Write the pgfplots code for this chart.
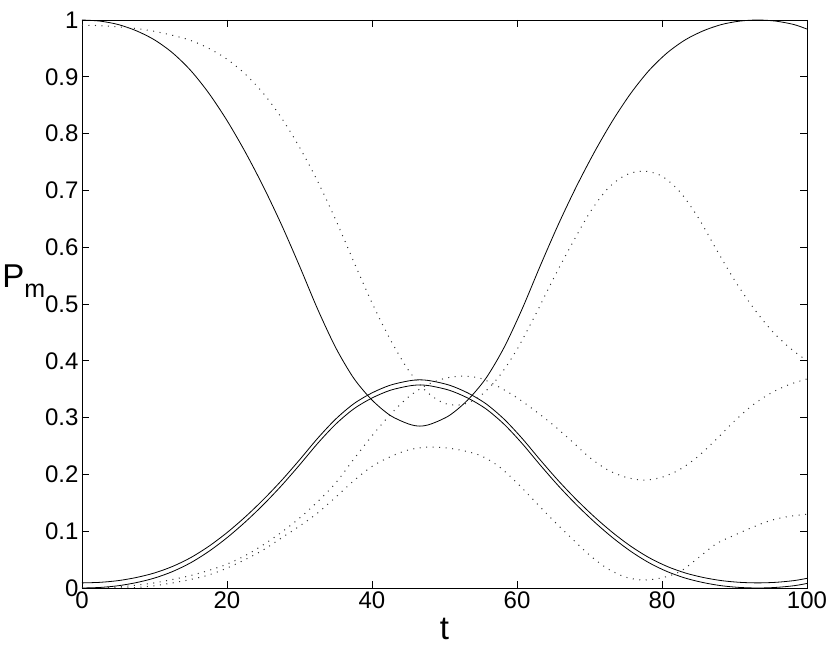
\documentclass[border=0pt]{standalone}
\usepackage{fontspec}
\setmainfont{Liberation Sans}
\usepackage{pgfplots}
\usepackage{pgfplotstable}
\pgfplotsset{compat=1.18}
% solid curves: t, A (upper), B, C
\pgfplotstableread{
t A B C
0 1.000 0.009 0.000
2.5 0.998 0.010 0.001
5 0.992 0.013 0.004
7.5 0.981 0.0185 0.0095
10 0.965 0.0265 0.0175
12.5 0.942 0.038 0.029
15 0.911 0.0535 0.0445
17.5 0.871 0.0735 0.0645
20 0.823 0.0975 0.0885
22.5 0.768 0.125 0.116
25 0.707 0.1555 0.1465
27.5 0.640 0.189 0.180
30 0.567 0.2255 0.2165
32.5 0.491 0.2635 0.2545
35 0.423 0.2975 0.2885
37.5 0.369 0.3245 0.3155
40 0.331 0.3435 0.3345
42.5 0.304 0.357 0.348
45 0.289 0.3645 0.3555
46.6 0.285 0.3665 0.3575
48.2 0.289 0.3645 0.3555
50.7 0.304 0.357 0.348
53.2 0.331 0.3435 0.3345
55.7 0.369 0.3245 0.3155
58.2 0.423 0.2975 0.2885
60.7 0.491 0.2635 0.2545
63.2 0.567 0.2255 0.2165
65.7 0.640 0.189 0.180
68.2 0.707 0.1555 0.1465
70.7 0.768 0.125 0.116
73.2 0.823 0.0975 0.0885
75.7 0.871 0.0735 0.0645
78.2 0.911 0.0535 0.0445
80.7 0.942 0.038 0.029
83.2 0.965 0.0265 0.0175
85.7 0.981 0.0185 0.0095
88.2 0.992 0.013 0.004
90.7 0.998 0.010 0.001
93.2 1.000 0.009 0.000
95.7 0.998 0.010 0.001
98.2 0.992 0.013 0.004
100 0.984 0.017 0.008
}\solid
% dotted curves: t, D, E, F
\pgfplotstableread{
t D E F
0 0.991 0.000 0.000
2.5 0.990 0.000 0.000
5 0.988 0.002 0.000
7.5 0.985 0.005 0.001
10 0.980 0.009 0.004
12.5 0.973 0.015 0.009
15 0.964 0.022 0.015
17.5 0.950 0.031 0.023
20 0.931 0.042 0.035
22.5 0.905 0.057 0.050
25 0.871 0.076 0.067
27.5 0.828 0.098 0.088
30 0.776 0.123 0.109
32.5 0.716 0.152 0.132
35 0.648 0.185 0.160
37.5 0.574 0.227 0.189
40 0.502 0.268 0.214
42.5 0.438 0.305 0.231
45 0.384 0.336 0.243
47.5 0.346 0.357 0.248
50 0.325 0.369 0.247
52.5 0.323 0.373 0.242
55 0.339 0.369 0.233
57.5 0.372 0.354 0.214
60 0.420 0.335 0.185
62.5 0.480 0.312 0.152
65 0.544 0.287 0.119
67.5 0.604 0.259 0.088
70 0.660 0.230 0.058
72.5 0.703 0.208 0.034
75 0.727 0.195 0.019
77.5 0.734 0.190 0.014
80 0.725 0.195 0.018
82.5 0.697 0.209 0.029
85 0.652 0.232 0.053
87.5 0.596 0.262 0.078
90 0.542 0.294 0.093
92.5 0.495 0.322 0.107
95 0.455 0.343 0.119
97.5 0.424 0.358 0.126
100 0.400 0.368 0.130
}\dotted
\begin{document}
\begin{tikzpicture}
\begin{axis}[
  scale only axis, width=725bp, height=568bp,
  xmin=0, xmax=100, ymin=0, ymax=1,
  xtick={0,20,40,60,80,100},
  ytick={0,0.1,0.2,0.3,0.4,0.5,0.6,0.7,0.8,0.9,1},
  yticklabels={0,0.1,0.2,0.3,0.4,0.5,0.6,0.7,0.8,0.9,1},
  xticklabels={0,20,40,60,80,100},
  tick align=inside,
  major tick length=7bp,
  tick style={black, line width=0.6bp},
  axis line style={line width=0.8bp},
  /pgf/number format/assume math mode=true,
  tick label style={font=\fontsize{24bp}{28bp}\selectfont},
  label style={font=\fontsize{33bp}{38bp}\selectfont},
  xlabel={t},
  xlabel style={at={(axis description cs:0.5,-0.0915)}, anchor=base, inner sep=0pt},
  ylabel={P\raisebox{-0.3em}{\fontsize{25bp}{25bp}\selectfont m}},
  ylabel style={rotate=-90, anchor=west, inner sep=0pt, at={(axis description cs:-0.110,0.540)}},
  clip=true,
]
\addplot[black, line width=0.8bp, smooth] table[x=t, y=A] {\solid};
\addplot[black, line width=0.8bp, smooth] table[x=t, y=B] {\solid};
\addplot[black, line width=0.8bp, smooth] table[x=t, y=C] {\solid};
\addplot[black!80, line width=1bp, dash pattern=on 1bp off 5.5bp, smooth] table[x=t, y=D] {\dotted};
\addplot[black!80, line width=1bp, dash pattern=on 1bp off 5.5bp, smooth] table[x=t, y=E] {\dotted};
\addplot[black!80, line width=1bp, dash pattern=on 1bp off 5.5bp, smooth] table[x=t, y=F] {\dotted};
\end{axis}
\pgfresetboundingbox
\path[use as bounding box] (-82bp,-71bp) rectangle (748bp,588bp);
\end{tikzpicture}
\end{document}
